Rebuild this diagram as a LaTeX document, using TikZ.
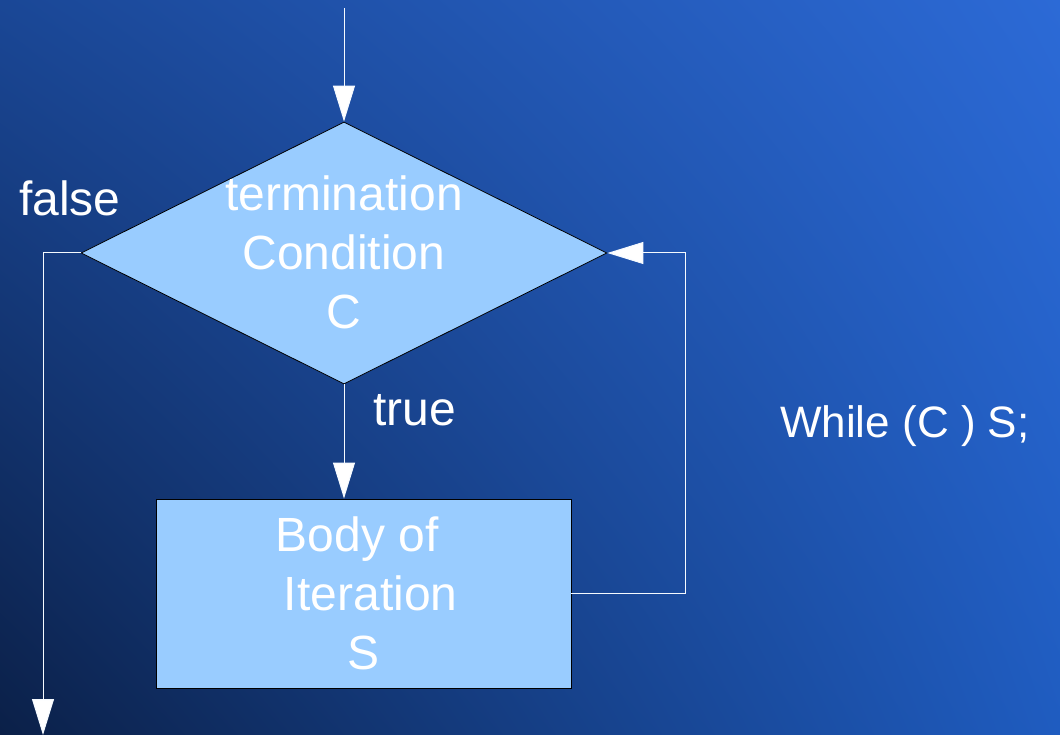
\documentclass[tikz,border=0pt]{standalone}
\usepackage{fontspec}
\setmainfont{Liberation Sans}
\usetikzlibrary{shapes.geometric, arrows.meta, shadings}

\definecolor{boxblue}{HTML}{99CCFF}
\definecolor{bgtl}{HTML}{1A4796}
\definecolor{bgtr}{HTML}{2C6AD6}
\definecolor{bgbl}{HTML}{0B2048}
\definecolor{bgbr}{HTML}{1F5CC0}

\tikzset{
  flow/.style={draw=white!90!boxblue, line width=1pt, -{Triangle[width=22pt,length=36pt,fill=white]}},
  decision/.style={diamond, draw=black, line width=0.8pt, fill=boxblue, minimum width=526pt, minimum height=262pt, inner sep=0pt},
  process/.style={rectangle, draw=black, line width=0.8pt, fill=boxblue, minimum width=415pt, minimum height=189pt, inner sep=0pt},
  words/.style={text=white, font=\fontsize{48}{59}\selectfont, align=center, inner sep=0pt}
}

\begin{document}
\begin{tikzpicture}[x=1pt,y=1pt,yscale=-1,xscale=1]
\useasboundingbox (0,0) rectangle (1060,735);

% Background
\shade[upper left=bgtl, upper right=bgtr, lower left=bgbl, lower right=bgbr] (0,0) rectangle (1060,735);

% Shapes
\node[decision] (cond) at (344,253) {};
\node[process] (body) at (363.5,593.5) {};

% Text Node
\node[words] (condtxt) at (344,252) {termination\\Condition\\C};
% Text Node
\node[words] (bodytxt) at (364,593) {Body of\ \ \\\ Iteration\\S};
% Text Node
\node[words] (false) at (70,198) {false};
% Text Node
\node[words] (true) at (415,410) {true};
% Text Node
\node[words, anchor=west, font=\fontsize{44}{53}\selectfont] (code) at (780,426) {While (C ) S;};

% Connector ends
\coordinate (start) at (344,8);
\coordinate (loop) at (685,253);
\coordinate (exit) at (43,735);

% Arrows
\draw[flow] (start) -- (cond.north);
\draw[flow] (cond.south) -- (cond.south |- body.north);
\draw[flow] (body.east) -| (loop) -- (cond.east);
\draw[flow] (cond.west) -| (exit);

\end{tikzpicture}
\end{document}
